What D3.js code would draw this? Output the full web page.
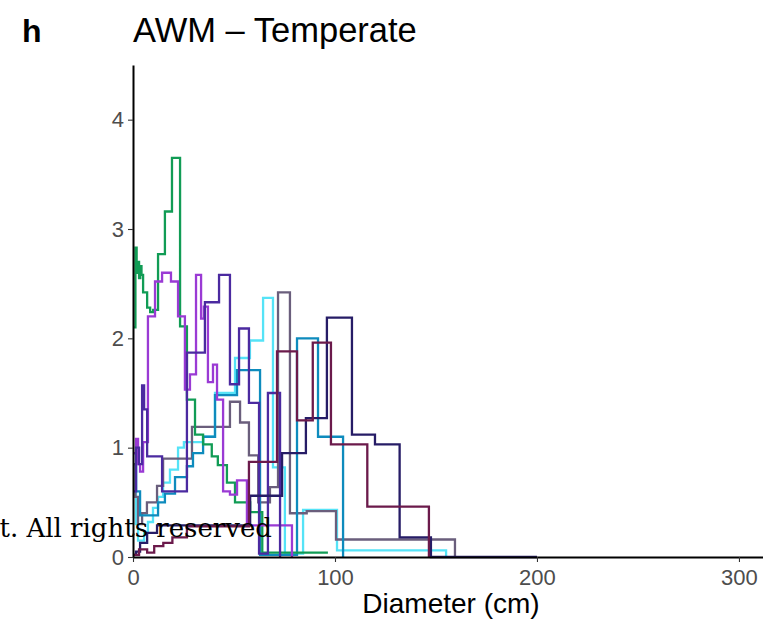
<!DOCTYPE html>
<html>
<head>
<meta charset="utf-8">
<script src="https://cdn.jsdelivr.net/npm/d3@7"></script>
<style>
  body { margin: 0; background: #fff; }
  .axis text { font-family: "Liberation Sans", Arial, sans-serif; font-size: 22px; fill: #4d4d4d; }
  .axis line { stroke: #333; stroke-width: 1.1; }
  .axis path { stroke: #000; stroke-width: 2; }
</style>
</head>
<body>
<div id="d3-container"></div>
<script>
/* CONSTANTS AND GLOBALS */
const width = 763,
  height = 627,
  margin = { top: 65, bottom: 70, left: 133, right: 0 };

// [diameter (cm), density] pairs, drawn as steps
const greenSeries = [[0.5,2.10],[1.2,2.83],[1.8,2.6],[2.4,2.7],[3.0,2.55],[3.6,2.66],[4.2,2.58],[5,2.42],[7,2.28],[8.5,2.24],[10,2.26],[12.4,2.77],[15.8,3.16],[19.3,3.65],[23.3,2.11],[26.7,1.44],[30.7,1.12],[34.7,1.03],[39,0.92],[42,0.84],[46.5,0.68],[50.5,0.5],[58,0.41],[64,0.04],[96.5,0.04]];
const purpleSeries = [[0.5,0.95],[1.5,1.08],[2.5,0.85],[3.5,0.78],[5.0,1.05],[7.4,2.2],[10.9,2.52],[14.4,2.6],[18.8,2.52],[22.3,2.2],[25.7,1.53],[28.2,1.67],[31.2,2.58],[33.7,2.18],[35.1,2.29],[37.1,1.6],[39.6,1.76],[41.6,1.44],[44.6,0.6],[48,0.57],[51.5,0.7],[56.4,0.29],[78.7,0]];
const indigoSeries = [[0.5,0.6],[1.5,1.0],[3,0.85],[4.5,1.57],[5.5,1.35],[7,0.92],[14.4,0.6],[26.7,1.87],[35.6,2.33],[42.6,2.58],[48,1.58],[52.5,2.09],[57.4,1.41],[62.4,0.03],[66.8,1.5],[72.8,0]];
const navySeries = [[0.5,0.02],[1.5,0.05],[3.5,0.13],[7,0.22],[11.9,0.29],[58,0.56],[73.8,0.95],[85.6,1.27],[96,2.19],[108.4,1.12],[119.8,1.03],[132,0.18],[147.5,0],[200,0]];
const cyanSeries = [[0.3,0.85],[1.5,0.3],[2.5,0.15],[5.5,0.22],[7.4,0.32],[9.9,0.45],[12.4,0.55],[14.9,0.68],[18.3,0.8],[22.3,1.0],[25.2,1.05],[34.7,1.1],[40.6,1.5],[50.5,1.82],[57.9,1.98],[64.4,2.37],[69.3,0.82],[75.2,0.03],[84.2,0.43],[101,0.06],[155,0]];
const blueSeries = [[0.3,0.95],[1.5,0.6],[3.5,0.38],[12.4,0.5],[15.8,0.58],[20.8,0.73],[26.7,0.83],[29.7,0.95],[34.7,1.1],[40.6,1.48],[51.5,1.71],[62.9,0.02],[81.2,2.0],[91.6,1.1],[104,0]];
const greySeries = [[0.3,0.85],[1.2,0.55],[2.5,0.3],[4.5,0.4],[6.9,0.5],[11.9,0.65],[14.9,0.9],[29.2,1.19],[48,1.42],[53,1.23],[57.4,0.93],[62,0.5],[67.8,0.64],[71.8,2.42],[77.7,0.4],[86,0.42],[100.5,0.16],[159.4,0]];
const maroonSeries = [[0,0.02],[3,0.07],[7,0.04],[10.5,0.1],[15,0.13],[19.5,0.18],[26.7,0.28],[57.4,0.87],[71.3,1.88],[81.2,1.25],[89,1.96],[98,1.03],[116,0.46],[146.5,0]];

const seriesList = [
  { name: "cyan", color: "#55e3f7", values: cyanSeries },
  { name: "grey", color: "#6a5e7c", values: greySeries },
  { name: "blue", color: "#0e8bbd", values: blueSeries },
  { name: "green", color: "#119c55", values: greenSeries },
  { name: "purple", color: "#9a3ad4", values: purpleSeries },
  { name: "indigo", color: "#4b2aa0", values: indigoSeries },
  { name: "navy", color: "#261c66", values: navySeries },
  { name: "maroon", color: "#6b1a4b", values: maroonSeries }
];

const xTicks = [0, 100, 200, 300];
const yTicks = [0, 1, 2, 3, 4];

let svg, xScale, yScale;

init();

function init() {
  xScale = d3.scaleLinear()
    .domain([0, 311.9])
    .range([margin.left, width - margin.right]);

  yScale = d3.scaleLinear()
    .domain([0, 4.5])
    .range([height - margin.bottom, margin.top]);

  svg = d3.select("#d3-container")
    .append("svg")
    .attr("width", width)
    .attr("height", height);

  draw();
}

function draw() {
  const line = d3.line()
    .x(d => xScale(d[0]))
    .y(d => yScale(d[1]))
    .curve(d3.curveStepAfter);

  svg.selectAll(".series")
    .data(seriesList, d => d.name)
    .join("path")
    .attr("class", "series")
    .attr("fill", "none")
    .attr("stroke", d => d.color)
    .attr("stroke-width", 2.3)
    .attr("d", d => line(d.values));

  // axes
  svg.append("g")
    .attr("class", "axis x-axis")
    .attr("transform", `translate(0, ${height - margin.bottom})`)
    .call(d3.axisBottom(xScale).tickValues(xTicks).tickSize(5).tickPadding(4).tickSizeOuter(0));

  svg.append("g")
    .attr("class", "axis y-axis")
    .attr("transform", `translate(${margin.left}, 0)`)
    .call(d3.axisLeft(yScale).tickValues(yTicks).tickFormat(d3.format("d")).tickSize(5).tickPadding(4).tickSizeOuter(0));

  svg.selectAll(".x-axis text").attr("dy", "0.85em");

  svg.append("text")
    .attr("x", (margin.left + width) / 2 + 3)
    .attr("y", 613)
    .attr("text-anchor", "middle")
    .style("font-family", "Liberation Sans, Arial, sans-serif")
    .style("font-size", "28px")
    .text("Diameter (cm)");

  svg.append("text")
    .attr("x", margin.left)
    .attr("y", 42)
    .style("font-family", "Liberation Sans, Arial, sans-serif")
    .style("font-size", "34.5px")
    .text("AWM \u2013 Temperate");

  svg.append("text")
    .attr("x", 22)
    .attr("y", 42)
    .style("font-family", "Liberation Sans, Arial, sans-serif")
    .style("font-size", "32px")
    .style("font-weight", "bold")
    .text("h");

  // overlaid notice text
  svg.append("text")
    .attr("x", 272)
    .attr("y", 537)
    .attr("text-anchor", "end")
    .style("font-family", "DejaVu Serif, Liberation Serif, serif")
    .style("font-size", "26px")
    .text("t. All rights reserved");
}
</script>
</body>
</html>
